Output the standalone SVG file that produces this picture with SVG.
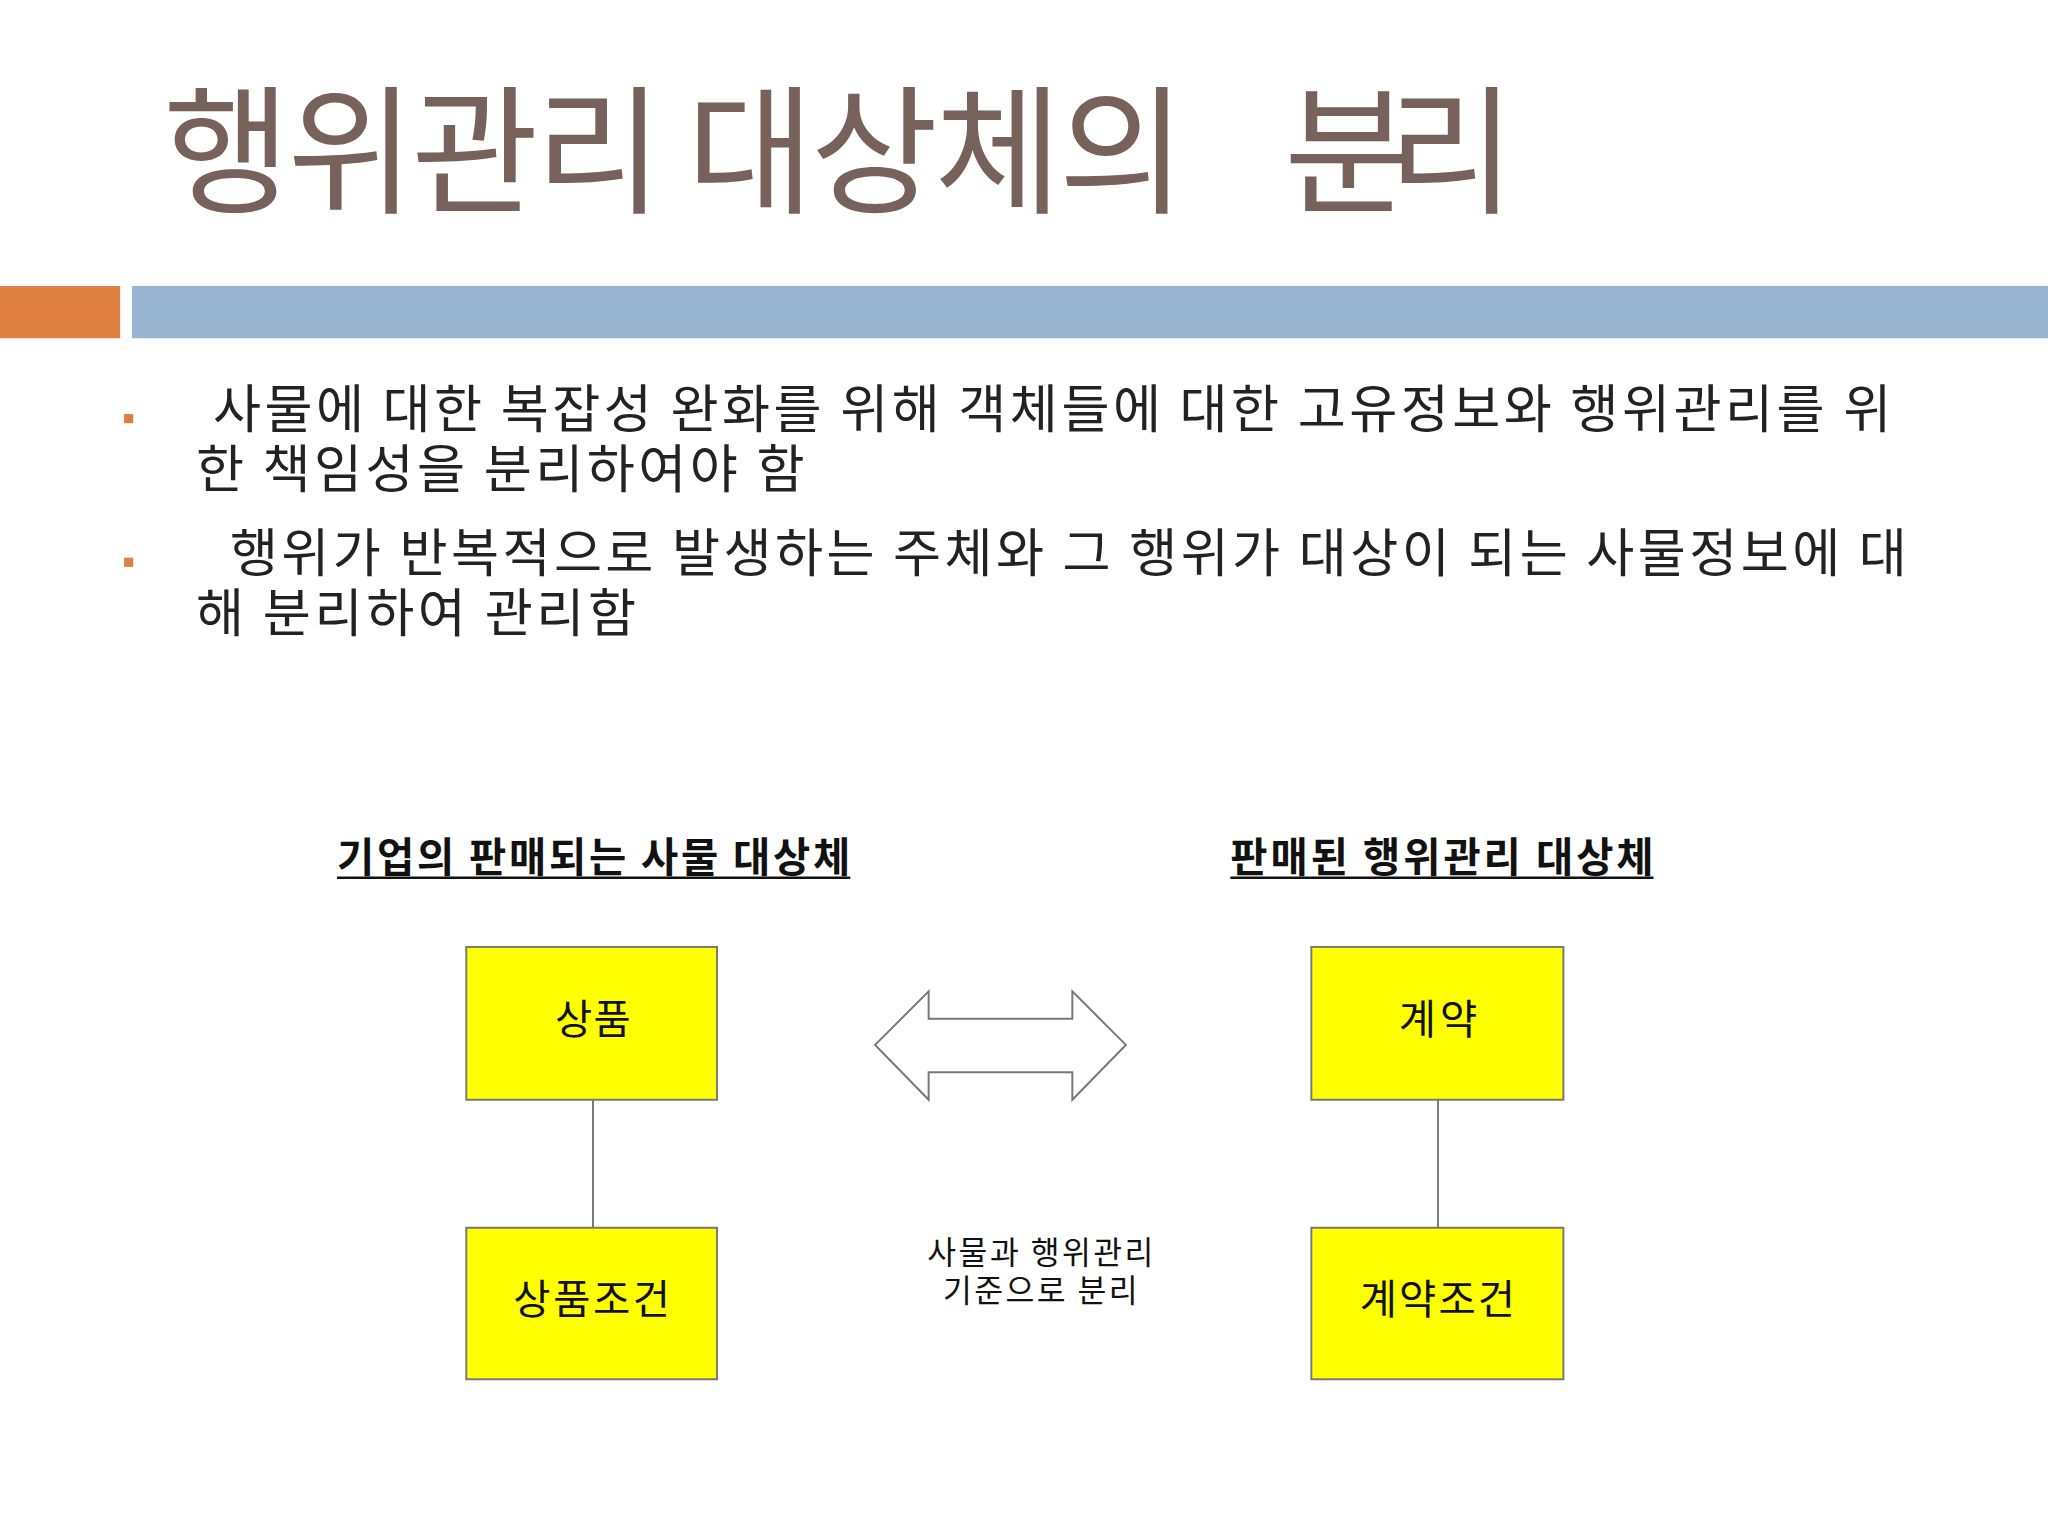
<svg xmlns="http://www.w3.org/2000/svg" width="2048" height="1536" viewBox="0 0 2048 1536">
<style>
text{font-family:"Noto Sans CJK KR","Noto Sans",sans-serif}
.t{font-size:106px;fill:#76625A}
.b{font-size:40px;fill:#222}
.h{font-size:31px;font-weight:bold;fill:#111}
.box{fill:#FFFF00;stroke:#777;stroke-width:1.5}
.bt{font-size:31px;fill:#111}
.c{font-size:24px;fill:#111}
</style>
<rect width="2048" height="1536" fill="#fff"/>
<g transform="scale(1.30612)">
<g id="title"><text class="t" x="125" y="155" textLength="783" lengthAdjust="spacing">행위관리 대상체의</text><text class="t" x="983" y="155" textLength="177" lengthAdjust="spacing">분리</text></g>
<g id="bars"><rect x="0" y="219" width="92" height="40" fill="#DF7F40"/><rect x="101" y="219" width="1467" height="40" fill="#97B4D1"/></g>
<g id="bullets">
<rect x="95" y="317" width="7" height="7" fill="#DF7F40"/>
<rect x="95" y="427" width="7" height="7" fill="#DF7F40"/>
<text class="b" x="163" y="328" textLength="1285" lengthAdjust="spacing">사물에 대한 복잡성 완화를 위해 객체들에 대한 고유정보와 행위관리를 위</text>
<text class="b" x="150" y="374" textLength="466" lengthAdjust="spacing">한 책임성을 분리하여야 함</text>
<text class="b" x="176" y="438" textLength="1284" lengthAdjust="spacing">행위가 반복적으로 발생하는 주체와 그 행위가 대상이 되는 사물정보에 대</text>
<text class="b" x="150" y="484" textLength="337" lengthAdjust="spacing">해 분리하여 관리함</text>
</g>
<g id="headings">
<text class="h" x="258" y="668" textLength="393" lengthAdjust="spacing">기업의 판매되는 사물 대상체</text>
<line x1="258" y1="672" x2="651" y2="672" stroke="#111" stroke-width="2"/>
<text class="h" x="942" y="668" textLength="324" lengthAdjust="spacing">판매된 행위관리 대상체</text>
<line x1="942" y1="672" x2="1266" y2="672" stroke="#111" stroke-width="2"/>
</g>
<g id="connectors" stroke="#777" stroke-width="1.5" fill="none">
<line x1="454" y1="842" x2="454" y2="940"/>
<line x1="1101" y1="842" x2="1101" y2="940"/>
<path d="M670 800 L711 759 L711 780 L821 780 L821 759 L862 800 L821 842 L821 821 L711 821 L711 842 Z" fill="#fff"/>
</g>
<g id="n1"><rect class="box" x="357" y="725" width="192" height="117"/><text class="bt" x="425" y="792" textLength="58" lengthAdjust="spacing">상품</text></g>
<g id="n2"><rect class="box" x="357" y="940" width="192" height="116"/><text class="bt" x="393" y="1006" textLength="120" lengthAdjust="spacing">상품조건</text></g>
<g id="n3"><rect class="box" x="1004" y="725" width="193" height="117"/><text class="bt" x="1071" y="792" textLength="60" lengthAdjust="spacing">계약</text></g>
<g id="n4"><rect class="box" x="1004" y="940" width="193" height="116"/><text class="bt" x="1041" y="1006" textLength="119" lengthAdjust="spacing">계약조건</text></g>
<g id="note"><text class="c" x="710" y="968" textLength="173" lengthAdjust="spacing">사물과 행위관리</text><text class="c" x="722" y="997" textLength="149" lengthAdjust="spacing">기준으로 분리</text></g>
</g>
</svg>
